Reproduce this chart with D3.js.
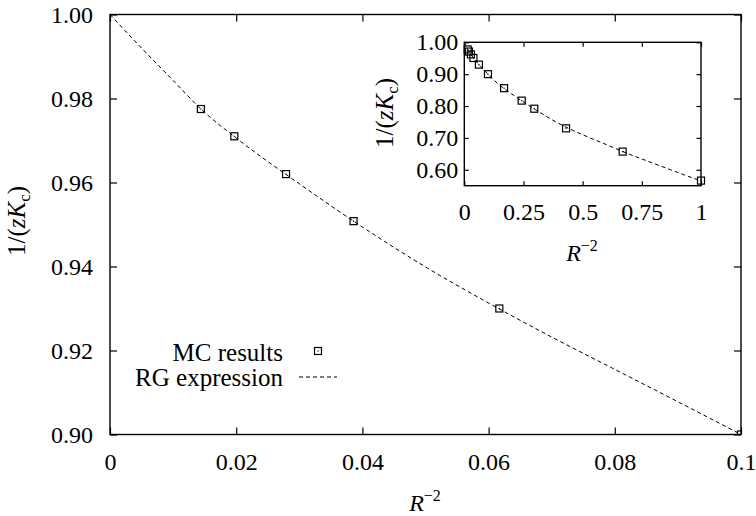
<!DOCTYPE html>
<html>
<head>
    <title>Critical coupling vs R^-2</title>
    <script src="https://d3js.org/d3.v7.min.js"></script>
    <style>
        body { margin: 0; background: #fff; }
        svg, svg text { font-family: "Liberation Serif", "DejaVu Serif", serif; }
        .tick line { stroke: #000; stroke-width: 1.2; }
        .tick text { fill: #000; }
        .frame { fill: none; stroke: #000; stroke-width: 1.4; }
        .rg { fill: none; stroke: #000; stroke-width: 1; stroke-dasharray: 4 3; }
        .mc { fill: none; stroke: #000; stroke-width: 1.2; }
    </style>
</head>
<body>
    <div id="chart"></div>
    <script>
        // MC results (x = R^-2, y = 1/(zKc))
        const mcX = [0.0144, 0.0197, 0.0279, 0.0386, 0.0617, 0.1, 0.168, 0.2425, 0.2957, 0.43, 0.669, 1.0];
        const mcY = [0.9775, 0.9710, 0.9620, 0.9508, 0.9300, 0.900, 0.856, 0.817, 0.7916, 0.730, 0.657, 0.566];

        // RG expression curve
        const rgX = [0, 0.005, 0.01, 0.0144, 0.02, 0.03, 0.04, 0.05, 0.06, 0.07, 0.08, 0.09, 0.1,
                     0.15, 0.2, 0.3, 0.4, 0.5, 0.6, 0.7, 0.8, 0.9, 1.0];
        const rgY = [1.0, 0.9920, 0.9843, 0.9775, 0.9706, 0.9597, 0.9494, 0.9399, 0.9313, 0.9232, 0.9155, 0.9078, 0.9000,
                     0.865, 0.838, 0.789, 0.745, 0.710, 0.679, 0.648, 0.620, 0.592, 0.565];

        const xTicks = [0, 0.02, 0.04, 0.06, 0.08, 0.1];
        const yTicks = [0.90, 0.92, 0.94, 0.96, 0.98, 1.00];
        const insetXTicks = [0, 0.25, 0.5, 0.75, 1];
        const insetYTicks = [0.60, 0.70, 0.80, 0.90, 1.00];

        const mc = mcX.map((x, i) => ({ x, y: mcY[i] }));
        const rg = rgX.map((x, i) => ({ x, y: rgY[i] }));

        const W = 756, H = 516;
        const serif = "'Liberation Serif', 'DejaVu Serif', serif";
        const svg = d3.select("#chart").append("svg")
            .attr("width", W).attr("height", H)
            .attr("font-family", serif);

        function panel(opt) {
            const { left, right, top, bottom, xDom, yDom, xt, yt, xf, yf, tick, fs, pad, id, clipPts } = opt;
            const x = d3.scaleLinear().domain(xDom).range([left, right]);
            const y = d3.scaleLinear().domain(yDom).range([bottom, top]);
            const g = svg.append("g");

            g.append("rect").attr("x", left).attr("y", top)
                .attr("width", right - left).attr("height", bottom - top)
                .attr("fill", "#fff");

            g.append("clipPath").attr("id", id)
                .append("rect").attr("x", left).attr("y", top)
                .attr("width", right - left).attr("height", bottom - top);

            const ax = [
                g.append("g").attr("transform", `translate(0,${bottom})`)
                    .call(d3.axisBottom(x).tickValues(xt).tickFormat(xf).tickSize(-tick).tickPadding(pad.x)),
                g.append("g").attr("transform", `translate(0,${top})`)
                    .call(d3.axisTop(x).tickValues(xt).tickFormat("").tickSize(-tick)),
                g.append("g").attr("transform", `translate(${left},0)`)
                    .call(d3.axisLeft(y).tickValues(yt).tickFormat(yf).tickSize(-tick).tickPadding(pad.y)),
                g.append("g").attr("transform", `translate(${right},0)`)
                    .call(d3.axisRight(y).tickValues(yt).tickFormat("").tickSize(-tick))
            ];
            ax.forEach(a => {
                a.attr("font-family", serif).attr("font-size", fs);
                a.select(".domain").remove();
            });

            const plot = g.append("g").attr("clip-path", `url(#${id})`);
            plot.append("path").datum(rg.filter(d => d.x <= xDom[1]))
                .attr("class", "rg")
                .attr("d", d3.line().x(d => x(d.x)).y(d => y(d.y)).curve(d3.curveMonotoneX));

            g.append("rect").attr("class", "frame")
                .attr("x", left).attr("y", top)
                .attr("width", right - left).attr("height", bottom - top);

            const ptLayer = clipPts ? plot : g.append("g");
            const pts = ptLayer.selectAll(".pt").data(mc.filter(d => d.x <= xDom[1]))
                .enter().append("g").attr("class", "pt")
                .attr("transform", d => `translate(${x(d.x)},${y(d.y)})`);
            pts.append("rect").attr("class", "mc")
                .attr("x", -3.5).attr("y", -3.5).attr("width", 7).attr("height", 7);
            pts.append("rect").attr("x", -0.6).attr("y", -0.6).attr("width", 1.2).attr("height", 1.2)
                .attr("fill", "#000");
            return { x, y, g };
        }

        const fmtX = d => d3.format("~g")(d);
        const fmt2 = d3.format(".2f");

        // main plot
        panel({
            id: "clipMain", left: 110, right: 741, top: 14.5, bottom: 434.5,
            xDom: [0, 0.1], yDom: [0.9, 1.0], xt: xTicks, yt: yTicks,
            xf: fmtX, yf: fmt2, tick: 7, fs: 24, pad: { x: 18, y: 17 }, clipPts: true
        });

        // inset
        panel({
            id: "clipInset", left: 464.3, right: 701, top: 42.3, bottom: 185.7,
            xDom: [0, 1], yDom: [0.55, 1.0], xt: insetXTicks, yt: insetYTicks,
            xf: fmtX, yf: fmt2, tick: 4.5, fs: 24, pad: { x: 17, y: 6 }, clipPts: false
        });

        // axis labels
        function rLabel(x, y) {
            const t = svg.append("text").attr("x", x).attr("y", y)
                .attr("text-anchor", "middle").attr("font-size", 24);
            t.append("tspan").attr("font-style", "italic").text("R");
            t.append("tspan").attr("dy", -10).attr("font-size", 16).text("\u22122");
        }
        rLabel(425, 511);
        rLabel(582, 261);

        function yLabel(x, y) {
            const t = svg.append("text")
                .attr("transform", `translate(${x},${y}) rotate(-90)`)
                .attr("text-anchor", "middle").attr("font-size", 25);
            t.append("tspan").text("1/(");
            t.append("tspan").attr("font-style", "italic").text("zK");
            t.append("tspan").attr("dy", 5).attr("font-size", 17).text("c");
            t.append("tspan").attr("dy", -5).text(")");
        }
        yLabel(25, 221);
        yLabel(393, 113);

        // legend
        const lg = svg.append("g").attr("font-size", 25);
        lg.append("text").attr("x", 283).attr("y", 352).attr("dy", "0.35em")
            .attr("text-anchor", "end").text("MC results");
        lg.append("text").attr("x", 283).attr("y", 377).attr("dy", "0.35em")
            .attr("text-anchor", "end").text("RG expression");
        lg.append("rect").attr("class", "mc").attr("x", 314.5).attr("y", 347.5)
            .attr("width", 7).attr("height", 7);
        lg.append("rect").attr("x", 317.4).attr("y", 350.4).attr("width", 1.2).attr("height", 1.2)
            .attr("fill", "#000");
        lg.append("line").attr("class", "rg")
            .attr("x1", 299).attr("x2", 337).attr("y1", 377).attr("y2", 377);
    </script>
</body>
</html>
